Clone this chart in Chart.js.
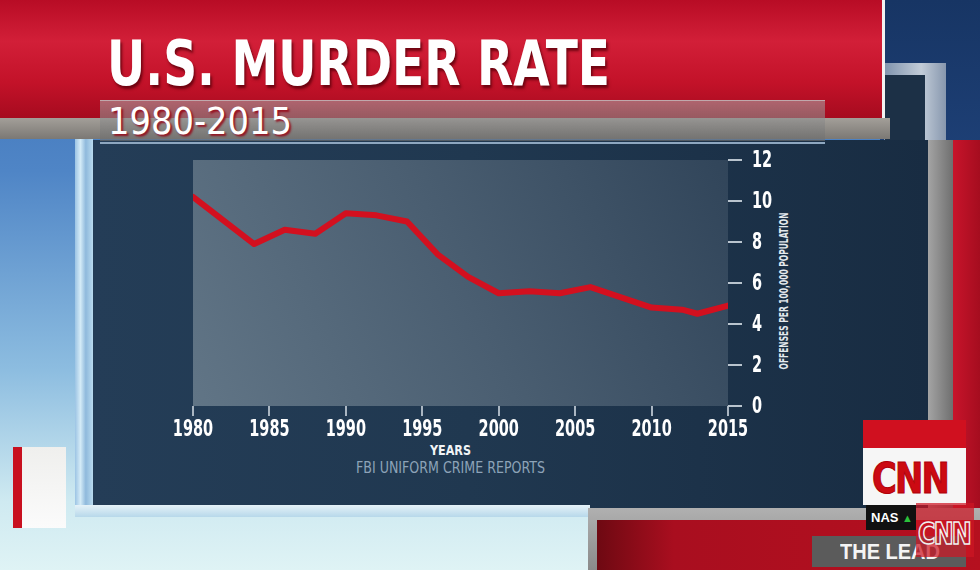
<!DOCTYPE html>
<html>
<head>
<meta charset="utf-8">
<script src="https://cdn.jsdelivr.net/npm/chart.js@4.4.1/dist/chart.umd.min.js"></script>
<style>
  html, body { margin: 0; padding: 0; }
  body {
    width: 980px; height: 570px; overflow: hidden; position: relative;
    font-family: "DejaVu Sans Condensed", sans-serif;
    background: linear-gradient(180deg, #3c70b6 0%, #4f85c6 30%, #8dbde0 65%, #cfeaf1 88%, #dff3f5 100%);
  }
  .abs { position: absolute; }
  .fit { white-space: nowrap; transform-origin: 0 0; }
  #navyTR { left: 880px; top: 0; width: 100px; height: 145px; background: linear-gradient(180deg, #173564, #1d3f75); }
  #frameTR { left: 884px; top: 63px; width: 62px; height: 85px; background: linear-gradient(90deg, #7f93ad, #c2ccd8 60%, #8797ae); }
  #panelTR { left: 885px; top: 75px; width: 40px; height: 80px; background: #1c3046; }
  #panel {
    left: 93px; top: 140px; width: 835px; height: 368px;
    background: linear-gradient(90deg, #243d57 0%, #203850 45%, #182c42 100%);
  }
  #leftFrame { left: 75px; top: 138px; width: 18px; height: 377px;
    background: linear-gradient(90deg, #9cc4e4 0%, #d4ebf7 30%, #8fb9dc 60%, #b9dbef 100%); }
  #bottomEdge { left: 75px; top: 505px; width: 515px; height: 12px;
    background: linear-gradient(180deg, #e5f2f8, #b7d8ea); }
  #banner { left: 0; top: 0; width: 884px; height: 118px;
    background: linear-gradient(180deg, #b80c25 0%, #d21f38 35%, #c31229 70%, #a60b1f 100%); }
  #bannerEdge { left: 882px; top: 0; width: 3px; height: 118px; background: #f2f2f2; }
  #greyBand { left: 0; top: 118px; width: 890px; height: 21px;
    background: linear-gradient(180deg, #a39f99, #7b7874); }
  #subBox { left: 100px; top: 100px; width: 725px; height: 40px;
    background: linear-gradient(180deg, rgba(170,170,170,0.55), rgba(110,110,110,0.65));
    border-top: 1px solid rgba(230,230,230,0.6); }
  #subLine { left: 100px; top: 142px; width: 725px; height: 2px; background: #8ea7c0; }
  #rightGrey { left: 928px; top: 140px; width: 25px; height: 430px; background: linear-gradient(90deg, #a4a4a4, #6f6f6f); }
  #rightRed { left: 953px; top: 140px; width: 27px; height: 430px; background: linear-gradient(90deg, #c8142b, #a50d1f); }
  #brGrey { left: 588px; top: 508px; width: 392px; height: 62px; background: linear-gradient(180deg, #b0b0b0, #8a8a8a); }
  #brRed { left: 597px; top: 520px; width: 383px; height: 50px; background: linear-gradient(90deg, #6e0912 0%, #a90e1f 20%, #b5101f 100%); }
  #lbRed { left: 13px; top: 447px; width: 9px; height: 81px; background: #c8101f; }
  #lbWhite { left: 22px; top: 447px; width: 44px; height: 81px; background: linear-gradient(180deg, #efefed, #fbfbfb); }
  #cnnTop { left: 863px; top: 420px; width: 103px; height: 28px; background: #d0101f; }
  #cnnBox { left: 863px; top: 448px; width: 103px; height: 57px; background: #f6f6f6; }
  #cnnText { left: 872px; top: 454px; color: #cc0a12; font: bold 42px "DejaVu Sans Condensed", sans-serif;
    letter-spacing: -2px; -webkit-text-stroke: 1px #b0000a; }
  #nas { left: 866px; top: 505px; width: 50px; height: 25px; background: #111; color: #fff;
    font: bold 13px "Liberation Sans", sans-serif; line-height: 25px; padding-left: 5px; box-sizing: border-box; }
  #nas span { color: #2bc23b; font-size: 11px; }
  #lead { left: 812px; top: 536px; width: 154px; height: 31px; background: #5b5b5b; }
  #leadText { left: 840px; top: 539px; color: #f4f4f4; font: bold 22px "Liberation Sans", sans-serif; }
  #cnnOverlay { left: 916px; top: 503px; width: 58px; height: 54px; background: rgba(205,22,36,0.72); }
  #cnnGhost { left: 918px; top: 516px; color: transparent; -webkit-text-stroke: 1.5px #f0f0f0;
    font: bold 30px "DejaVu Sans Condensed", sans-serif; letter-spacing: -2px; }
  #title { left: 107px; top: 33px; color: #ffffff; font-weight: bold; font-size: 62px; line-height: 62px;
    text-shadow: 2px 3px 3px rgba(95,0,12,0.85); }
  #subtitle { left: 108px; top: 102px; color: #ffffff; font-size: 38px; line-height: 38px;
    text-shadow: 2px 2px 2px rgba(150,10,25,0.9); }
  #xTitle { left: 430px; top: 443px; color: #f2f4f6; font-weight: bold; font-size: 14px; line-height: 14px; }
  #source { left: 356px; top: 461px; color: #8da3b8; font-size: 15px; line-height: 15px; }
  #yTitle { left: 0; top: 0; color: #e4e9ee; font-weight: bold; font-size: 13px; line-height: 13px; }
  #chart { position: absolute; left: 0; top: 0; }
</style>
</head>
<body>
<div class="abs" id="navyTR"></div>
<div class="abs" id="frameTR"></div>
<div class="abs" id="panelTR"></div>
<div class="abs" id="panel"></div>
<div class="abs" id="leftFrame"></div>
<div class="abs" id="bottomEdge"></div>
<div class="abs" id="banner"></div>
<div class="abs" id="bannerEdge"></div>
<div class="abs" id="greyBand"></div>
<div class="abs" id="subBox"></div>
<div class="abs" id="subLine"></div>
<div class="abs" id="rightGrey"></div>
<div class="abs" id="rightRed"></div>
<div class="abs" id="brGrey"></div>
<div class="abs" id="brRed"></div>
<div class="abs" id="lbRed"></div>
<div class="abs" id="lbWhite"></div>
<div class="abs" id="cnnTop"></div>
<div class="abs" id="cnnBox"></div>
<div class="abs fit" id="cnnText" data-w="76">CNN</div>
<div class="abs" id="nas">NAS <span>▲</span></div>
<div class="abs" id="lead"></div>
<div class="abs fit" id="leadText" data-w="100">THE LEAD</div>
<div class="abs" id="cnnOverlay"></div>
<div class="abs fit" id="cnnGhost" data-w="52">CNN</div>

<div class="abs fit" id="title" data-w="503">U.S. MURDER RATE</div>
<div class="abs fit" id="subtitle" data-w="184">1980-2015</div>
<div class="abs fit" id="xTitle" data-w="41">YEARS</div>
<div class="abs fit" id="source" data-w="189">FBI UNIFORM CRIME REPORTS</div>
<div class="abs fit" id="yTitle" data-w="157">OFFENSES PER 100,000 POPULATION</div>

<canvas id="chart" width="980" height="570"></canvas>

<script>
// 殺人発生率（人口10万人あたり）
const years = [1980, 1984, 1986, 1988, 1990, 1992, 1994, 1996, 1998, 2000, 2002, 2004, 2006, 2008, 2010, 2012, 2013, 2015];
const rates = [10.2, 7.9, 8.6, 8.4, 9.4, 9.3, 9.0, 7.4, 6.3, 5.5, 5.6, 5.5, 5.8, 5.3, 4.8, 4.7, 4.5, 4.9];
const xTicks = [1980, 1985, 1990, 1995, 2000, 2005, 2010, 2015];
const yTicks = [0, 2, 4, 6, 8, 10, 12];

// テキスト幅合わせ
document.querySelectorAll(".fit").forEach((el) => {
  const r = el.getBoundingClientRect();
  const sx = Number(el.dataset.w) / r.width;
  if (el.id === "yTitle") {
    // 縦書き（下から上）、中心 (783, 291)
    el.style.transform = `translate(783px, 291px) rotate(-90deg) scaleX(${sx}) translate(${-r.width / 2}px, ${-r.height / 2}px)`;
  } else {
    el.style.transform = `scaleX(${sx})`;
  }
});

const plotBackground = {
  id: "plotBackground",
  beforeDraw(chart) {
    const { ctx, chartArea: a } = chart;
    const g = ctx.createLinearGradient(a.left, a.bottom, a.right, a.top);
    g.addColorStop(0, "#617586");
    g.addColorStop(0.5, "#4a5e71");
    g.addColorStop(1, "#31455a");
    ctx.save();
    ctx.fillStyle = g;
    ctx.fillRect(a.left, a.top, a.right - a.left, a.bottom - a.top);
    ctx.restore();
  },
};

// 細めの目盛りラベル（横方向に圧縮）
const condensedTicks = {
  id: "condensedTicks",
  afterDraw(chart) {
    const { ctx, scales, chartArea: a } = chart;
    ctx.save();
    ctx.fillStyle = "#ffffff";
    ctx.font = "bold 23px 'DejaVu Sans Condensed', sans-serif";
    const sx = 0.7;
    ctx.textBaseline = "alphabetic";
    ctx.textAlign = "center";
    scales.x.ticks.forEach((t) => {
      const x = scales.x.getPixelForValue(t.value);
      ctx.save();
      ctx.translate(x, a.bottom + 30);
      ctx.scale(sx, 1);
      ctx.fillText(String(t.value), 0, 0);
      ctx.restore();
    });
    ctx.textAlign = "left";
    ctx.textBaseline = "middle";
    scales.y.ticks.forEach((t) => {
      const y = scales.y.getPixelForValue(t.value);
      ctx.save();
      ctx.translate(a.right + 24, y + 1);
      ctx.scale(sx, 1);
      ctx.fillText(String(t.value), 0, 0);
      ctx.restore();
    });
    ctx.restore();
  },
};

new Chart(document.getElementById("chart"), {
  type: "line",
  data: {
    datasets: [
      {
        label: "Murder rate",
        data: years.map((y, i) => ({ x: y, y: rates[i] })),
        borderColor: "#d3101f",
        borderWidth: 6,
        pointRadius: 0,
        tension: 0,
        fill: false,
        borderJoinStyle: "round",
        borderCapStyle: "round",
      },
    ],
  },
  options: {
    responsive: false,
    animation: false,
    layout: { padding: { left: 193, top: 160, right: 192, bottom: 129 } },
    plugins: { legend: { display: false }, tooltip: { enabled: false } },
    scales: {
      x: {
        type: "linear",
        min: 1980,
        max: 2015,
        afterBuildTicks: (s) => { s.ticks = xTicks.map((v) => ({ value: v })); },
        afterFit: (s) => { s.height = 35; },
        border: { display: false },
        grid: { drawOnChartArea: false, drawTicks: true, tickLength: 10, color: "#aab6c2", lineWidth: 2 },
        ticks: { display: false },
      },
      y: {
        position: "right",
        min: 0,
        max: 12,
        afterBuildTicks: (s) => { s.ticks = yTicks.map((v) => ({ value: v })); },
        afterFit: (s) => { s.width = 60; },
        border: { display: false },
        grid: { drawOnChartArea: false, drawTicks: true, tickLength: 14, color: "#b9c4ce", lineWidth: 2 },
        ticks: { display: false },
      },
    },
  },
  plugins: [plotBackground, condensedTicks],
});
</script>
</body>
</html>
